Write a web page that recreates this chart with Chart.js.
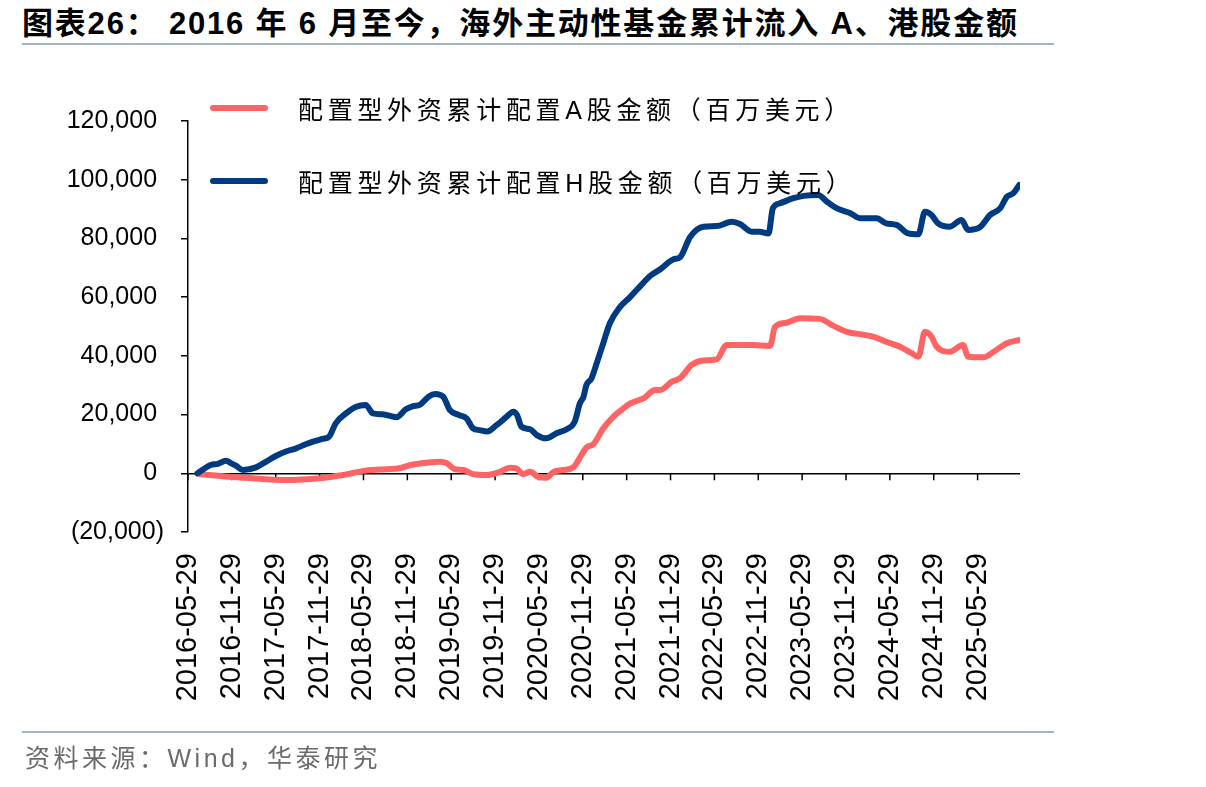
<!DOCTYPE html>
<html lang="zh">
<head>
<meta charset="UTF-8">
<title>海外主动性基金累计流入A、港股金额</title>
<script src="https://cdn.jsdelivr.net/npm/chart.js"></script>
<style>
  body { margin: 0; background: #fff; width: 1206px; height: 787px; overflow: hidden; position: relative;
         font-family: "Liberation Sans", "Noto Sans CJK SC", sans-serif; }
  canvas { position: absolute; left: 0; top: 0; }
  #title { position: absolute; left: 22px; top: 7px; line-height: 34px; font-size: 31px; font-weight: bold; letter-spacing: 1.8px; white-space: nowrap; color: #000; }
  .rule { position: absolute; left: 22px; width: 1032px; height: 2px; background: #a3b5cb; }
  #source { position: absolute; left: 25px; top: 738px; font-size: 25px; color: #6b6b6b; letter-spacing: 3.5px; white-space: nowrap; }
  .item { position: absolute; left: 210px; height: 36px; display: flex; align-items: center; white-space: nowrap;
          font-size: 25px; letter-spacing: 4.7px; color: #000; z-index: 2; }
  .swatch { width: 58px; height: 6px; border-radius: 3px; margin-right: 30px; }
</style>
</head>
<body>
<div id="title">图表26： 2016 年 6 月至今，海外主动性基金累计流入 A、港股金额</div>
<div class="rule" style="top:43px"></div>
<canvas id="myChart" width="1206" height="787"></canvas>
<div id="legend"></div>
<div class="rule" style="top:731px"></div>
<div id="source">资料来源：Wind，华泰研究</div>
<script>
// x positions are months since 2016-05-29
const tickLabels = ['2016-05-29', '2016-11-29', '2017-05-29', '2017-11-29', '2018-05-29', '2018-11-29',
  '2019-05-29', '2019-11-29', '2020-05-29', '2020-11-29', '2021-05-29', '2021-11-29', '2022-05-29',
  '2022-11-29', '2023-05-29', '2023-11-29', '2024-05-29', '2024-11-29', '2025-05-29'];

const seriesNames = ['配置型外资累计配置A股金额（百万美元）', '配置型外资累计配置H股金额（百万美元）'];
const seriesColors = ['#ff6464', '#003a80'];

const monthsA = [1.6, 5.6, 8.8, 13.4, 18.0, 21.2, 24.3, 27.1, 28.9, 30.4, 32.6, 34.5, 35.4, 36.5, 37.7,
  39.0, 40.9, 42.7, 44.0, 44.9, 45.8, 46.8, 47.9, 49.0, 50.0, 51.3, 52.7, 53.8, 54.6, 55.4, 56.8, 58.2,
  59.3, 60.5, 62.3, 63.9, 64.6, 66.2, 67.3, 68.9, 70.5, 72.3, 73.7, 75.5, 77.3, 79.6, 80.3, 81.9, 83.7,
  86.4, 88.3, 90.1, 91.9, 93.8, 95.5, 97.4, 99.0, 99.9, 100.8, 101.7, 102.4, 104.2, 106.0, 106.7, 108.8,
  110.2, 112.0, 113.7];
const flowA = [-300, -1200, -1700, -2300, -1700, -600, 900, 1400, 1700, 2800, 3600, 3900, 3400, 1400, 1100,
  -300, -600, 500, 1900, 1700, -300, 500, -1200, -1500, 500, 1100, 2000, 6200, 9000, 9800, 15300, 19300,
  21600, 23800, 25500, 28400, 28400, 31200, 32400, 36900, 38400, 38800, 43700, 43700, 43700, 43400, 49900, 51300, 52800,
  52600, 50200, 48200, 47400, 46500, 44800, 43100, 40900, 39700, 48200, 46500, 43100, 41400, 43700, 39700, 39500,
  41400, 44300, 45400];

const monthsH = [1.3, 3.1, 4.1, 5.2, 5.9, 6.6, 7.5, 9.3, 10.7, 12.0, 13.4, 14.8, 16.1, 17.1, 18.4, 19.3,
  20.2, 21.6, 23.0, 24.3, 25.3, 26.6, 28.5, 29.8, 30.8, 31.7, 32.9, 33.8, 34.9, 35.8, 37.0, 38.1, 39.0,
  39.9, 40.9, 42.2, 43.6, 44.5, 45.0, 45.6, 46.8, 47.7, 49.0, 50.4, 51.8, 52.9, 53.6, 54.1, 54.5, 55.2,
  55.9, 56.8, 57.7, 59.1, 60.5, 61.8, 63.2, 64.6, 66.4, 67.3, 68.7, 70.5, 72.3, 74.4, 75.5, 77.1, 78.2,
  79.4, 80.0, 81.0, 82.8, 84.2, 86.2, 87.4, 88.7, 90.6, 91.9, 94.2, 95.5, 96.9, 98.5, 99.9, 100.8, 101.7,
  102.6, 104.2, 105.8, 106.7, 108.3, 109.7, 111.1, 112.0, 112.9, 113.7];
const flowH = [0, 2800, 3200, 4300, 3400, 2500, 1100, 2000, 4000, 5900, 7400, 8500, 9900, 10800, 11700, 12500,
  17000, 20400, 22700, 23300, 20400, 20100, 19100, 21800, 22900, 23300, 26100, 27000, 26100, 21600, 19900, 18700, 15300,
  14700, 14200, 16400, 19300, 21000, 19900, 15900, 15000, 13000, 11900, 13600, 15000, 17600, 23800, 26100, 30100, 32400,
  37500, 44300, 51100, 56700, 60100, 63600, 67200, 69500, 72900, 73600, 80600, 84000, 84200, 85700, 84900, 82300, 82300,
  81700, 90300, 92000, 93700, 94500, 94800, 92500, 90300, 88600, 86900, 86900, 85100, 84600, 81700, 81400, 89100, 88000,
  85100, 84000, 86300, 82900, 83800, 88000, 90300, 94200, 95400, 98200];

function pairs(xs, ys) {
  return xs.map((m, i) => ({ x: m, y: ys[i] }));
}

function formatValue(v) {
  const s = Math.abs(v).toLocaleString('en-US');
  return v < 0 ? '(' + s + ')' : s + ' ';
}

// tick marks on the zero line
const zeroTicks = {
  id: 'zeroTicks',
  beforeDatasetsDraw(chart) {
    const { ctx, scales: { x, y } } = chart;
    const y0 = y.getPixelForValue(0);
    ctx.save();
    ctx.strokeStyle = '#000';
    ctx.lineWidth = 1.5;
    tickLabels.forEach((_, i) => {
      const px = x.getPixelForValue(i * 6);
      ctx.beginPath();
      ctx.moveTo(px, y0);
      ctx.lineTo(px, y0 + 7);
      ctx.stroke();
    });
    ctx.restore();
  }
};

const ctx = document.getElementById('myChart').getContext('2d');
const myChart = new Chart(ctx, {
  type: 'line',
  data: {
    datasets: [
      { label: seriesNames[0], data: pairs(monthsA, flowA), borderColor: seriesColors[0], order: 1 },
      { label: seriesNames[1], data: pairs(monthsH, flowH), borderColor: seriesColors[1], order: 0 }
    ]
  },
  options: {
    responsive: false,
    animation: false,
    events: [],
    layout: { padding: { left: 18, top: 121, right: 186, bottom: 85 } },
    elements: {
      line: { borderWidth: 6, borderCapStyle: 'round', borderJoinStyle: 'round', cubicInterpolationMode: 'monotone' },
      point: { radius: 0 }
    },
    plugins: { legend: { display: false }, tooltip: { enabled: false } },
    scales: {
      x: {
        type: 'linear',
        min: 0,
        max: 113.8,
        afterBuildTicks: s => { s.ticks = tickLabels.map((_, i) => ({ value: i * 6 })); },
        afterFit: s => { s.height = 170; },
        grid: { display: false },
        border: { display: false },
        ticks: {
          autoSkip: false,
          minRotation: 90,
          maxRotation: 90,
          padding: 13,
          color: '#000',
          font: { family: 'Liberation Sans', size: 29 },
          callback: v => tickLabels[Math.round(v / 6)] ?? ''
        }
      },
      y: {
        min: -20000,
        max: 120000,
        afterFit: s => { s.width = 170; },
        border: { display: true, color: '#000', width: 1.5 },
        grid: {
          color: c => (c.tick && c.tick.value === 0 ? '#000' : 'rgba(0,0,0,0)'),
          tickColor: '#000',
          lineWidth: 1.5,
          tickLength: 7
        },
        ticks: {
          stepSize: 20000,
          padding: 17,
          color: '#000',
          font: { family: 'Liberation Sans', size: 25 },
          callback: v => formatValue(v)
        }
      }
    }
  },
  plugins: [zeroTicks]
});

// legend drawn over the plot, from the chart's datasets
const legend = document.getElementById('legend');
myChart.data.datasets.forEach((ds, i) => {
  const item = document.createElement('div');
  item.className = 'item';
  item.style.top = (i === 0 ? 90 : 163) + 'px';
  item.innerHTML = '<span class="swatch" style="background:' + ds.borderColor + '"></span>' + ds.label;
  legend.appendChild(item);
});
</script>
</body>
</html>
